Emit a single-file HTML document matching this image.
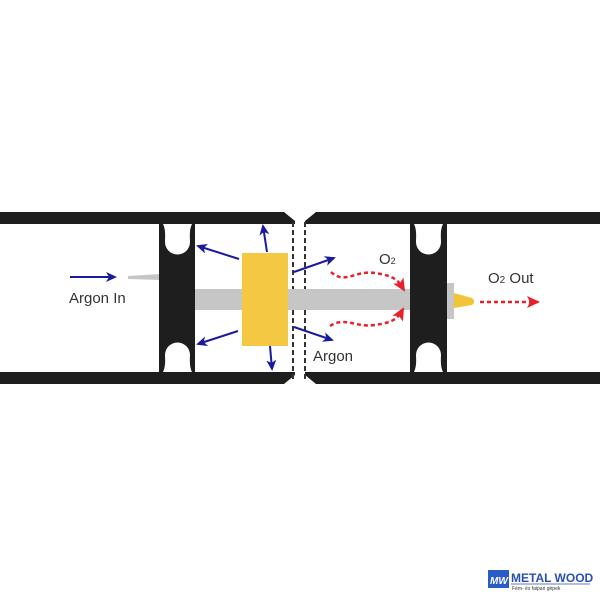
<!DOCTYPE html>
<html><head><style>body{margin:0;background:#fff}</style></head><body>
<svg width="600" height="600" viewBox="0 0 600 600" xmlns="http://www.w3.org/2000/svg" font-family="Liberation Sans, sans-serif">
<defs>
<marker id="b" markerWidth="11" markerHeight="10" refX="9" refY="5" orient="auto" markerUnits="userSpaceOnUse"><path d="M0,0 L11,5 L0,10 L3,5z" fill="#1a1aa0"/></marker>
<marker id="r" markerWidth="13" markerHeight="12" refX="11" refY="6" orient="auto" markerUnits="userSpaceOnUse"><path d="M0,0 L13,6 L0,12 L3,6z" fill="#e8202a"/></marker>
</defs>
<path d="M0,212 H284 L295,221 V224 H0z" fill="#1e1e1e"/>
<path d="M0,372 H295 V375 L284,384 H0z" fill="#1e1e1e"/>
<path d="M316,212 H600 V224 H305 V221z" fill="#1e1e1e"/>
<path d="M305,372 H600 V384 H316 L305,375z" fill="#1e1e1e"/>
<line x1="293" y1="222" x2="293" y2="382" stroke="#333" stroke-width="2" stroke-dasharray="5,3"/>
<line x1="305" y1="222" x2="305" y2="382" stroke="#333" stroke-width="2" stroke-dasharray="5,3"/>
<rect x="195" y="289" width="215" height="21" fill="#c6c6c6"/>
<polygon points="128,276 160,274 160,280 128,279" fill="#c6c6c6"/>
<path d="M159,224 H195 V372 H159z M163,224 C166,230 165,238 165,242 A12,12 0 0 0 190,242 C190,238 189,230 192,224z M163,372 C166,366 165,358 165,355 A12,12 0 0 1 190,355 C190,358 189,366 192,372z" fill="#1e1e1e" fill-rule="evenodd"/>
<path d="M410,224 H447 V372 H410z M414,224 C417,230 416,238 416,242 A12,12 0 0 0 441,242 C441,238 440,230 443,224z M414,372 C417,366 416,358 416,355 A12,12 0 0 1 441,355 C441,358 440,366 443,372z" fill="#1e1e1e" fill-rule="evenodd"/>
<rect x="447" y="283" width="7" height="36" fill="#c6c6c6"/>
<polygon points="454,293 472,298 474,300 474,303 472,305 454,308" fill="#f2c536"/>
<rect x="242" y="253" width="46" height="93" fill="#f4c842"/>
<g stroke="#1a1aa0" stroke-width="2" fill="none" marker-end="url(#b)">
<line x1="70" y1="277" x2="115" y2="277"/>
<line x1="239" y1="259" x2="198" y2="246"/>
<line x1="238" y1="331" x2="198" y2="344"/>
<line x1="267" y1="252" x2="263" y2="226"/>
<line x1="270" y1="346" x2="272" y2="369"/>
<line x1="294" y1="272" x2="334" y2="258"/>
<line x1="294" y1="327" x2="332" y2="340"/>
</g>
<g stroke="#e8202a" stroke-width="2.5" fill="none" stroke-dasharray="4,3" marker-end="url(#r)">
<path d="M331,272 C345,285 355,270 375,273 C395,276 398,280 404,290"/>
<path d="M330,326 C345,316 355,328 375,325 C395,322 398,318 403,309"/>
<line x1="480" y1="302" x2="538" y2="302"/>
</g>
<g fill="#333" font-size="15">
<text x="69" y="303">Argon In</text>
<text x="313" y="361">Argon</text>
<text x="379" y="264">O<tspan font-size="9">2</tspan></text>
<text x="488" y="283">O<tspan font-size="10">2</tspan> Out</text>
</g>
<rect x="488" y="570" width="21" height="18" fill="#2a5cc8"/>
<text x="490" y="584" font-size="10" font-style="italic" font-weight="bold" fill="#fff">MW</text>
<text x="511" y="582" font-size="12" font-weight="bold" fill="#2a4fb0">METAL WOOD</text>
<line x1="511" y1="584" x2="590" y2="584" stroke="#2a4fb0" stroke-width="0.8"/>
<text x="512" y="590" font-size="5" fill="#333">Fém- és faipari gépek</text>
</svg>
</body></html>
